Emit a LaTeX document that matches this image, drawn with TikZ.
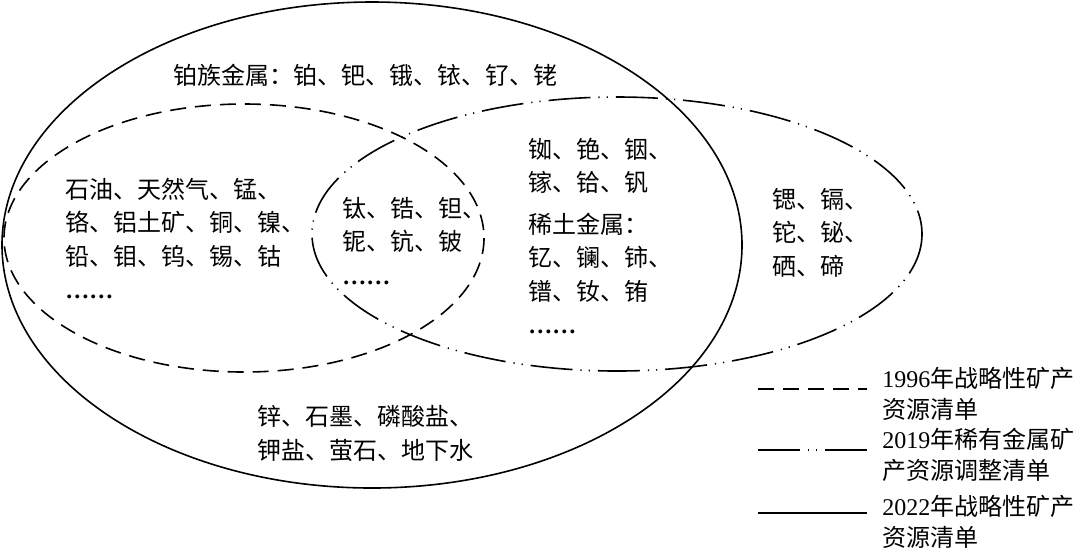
\documentclass[tikz,border=0pt]{standalone}
\usepackage{fontspec}
\setmainfont{Liberation Serif}
\newfontfamily\cjk{Noto Sans CJK SC}
\usepackage{tikz}

\tikzset{
    list/.style={anchor=west, inner sep=0pt, align=left, font=\cjk\fontsize{12}{16.8}\selectfont},
    legendtext/.style={anchor=west, inner sep=0pt, align=left, font=\cjk\fontsize{12}{15.5}\selectfont},
    set1996/.style={line width=0.8pt, dash pattern=on 8pt off 4.5pt},
    set2019/.style={line width=0.8pt, dash pattern=on 21pt off 4pt on 0.6pt off 3.5pt on 0.6pt off 4pt},
    set2022/.style={line width=0.8pt}
}
\newcommand{\moredots}{{\rmfamily\bfseries ……}}

\begin{document}
\begin{tikzpicture}[x=0.5pt, y=-0.5pt]

    \useasboundingbox (0,0) rectangle (1080,548);

    % === The three sets ===
    \draw[set2022] (372,245) ellipse [x radius=370, y radius=243];
    \draw[set1996] (244,238) ellipse [x radius=240, y radius=134];
    \draw[set2019] (617,234) ellipse [x radius=305, y radius=137];

    % === Contents of the sets ===
    \node[list] (pgm) at (173,75) {铂族金属：铂、钯、锇、铱、钌、铑};

    \node[list] (only1996) at (65,238.5)
        {石油、天然气、锰、\\铬、铝土矿、铜、镍、\\铅、钼、钨、锡、钴\\\moredots};

    \node[list] (all3) at (342,241)
        {钛、锆、钽、\\铌、钪、铍\\\moredots};

    \node[list] (rare) at (528,166)
        {铷、铯、铟、\\镓、铪、钒};
    \node[list] (ree) at (528,273.5)
        {稀土金属：\\钇、镧、铈、\\镨、钕、铕\\\moredots};

    \node[list] (only2019) at (772,232.5)
        {锶、镉、\\铊、铋、\\硒、碲};

    \node[list] (only2022) at (257,433.5)
        {锌、石墨、磷酸盐、\\钾盐、萤石、地下水};

    % === Legend ===
    \coordinate (l1a) at (758,389);
    \coordinate (l1b) at (867,389);
    \coordinate (l2a) at (758,450);
    \coordinate (l2b) at (867,450);
    \coordinate (l3a) at (758,513);
    \coordinate (l3b) at (867,513);

    \draw[set1996] (l1a) -- (l1b);
    \draw[set2019] (l2a) -- (l2b);
    \draw[set2022] (l3a) -- (l3b);

    \node[legendtext] (leg1) at (882,394) {{\rmfamily 1996}年战略性矿产\\资源清单};
    \node[legendtext] (leg2) at (882,455) {{\rmfamily 2019}年稀有金属矿\\产资源调整清单};
    \node[legendtext] (leg3) at (882,522) {{\rmfamily 2022}年战略性矿产\\资源清单};

\end{tikzpicture}
\end{document}
